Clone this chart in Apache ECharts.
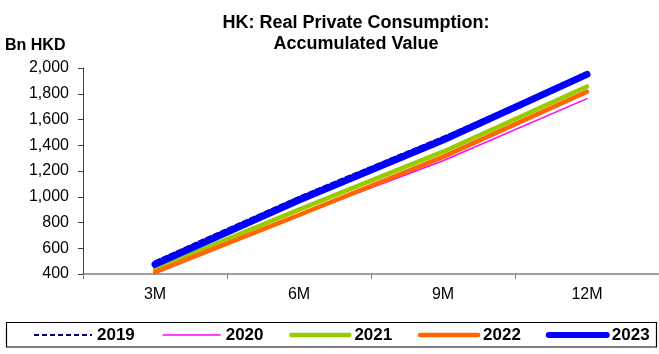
<!DOCTYPE html>
<html><head><meta charset="utf-8">
<script src="https://cdn.jsdelivr.net/npm/echarts@6/dist/echarts.min.js"></script>
<style>html,body{margin:0;padding:0;background:#fff}#c{width:659px;height:354px}</style>
</head><body><div id="c"></div>
<script>
const categories = ['3M', '6M', '9M', '12M'];
const s2019 = [500, 1000, 1465, 1960];
const s2020 = [418, 858, 1280, 1762];
const s2021 = [440, 900, 1350, 1855];
const s2022 = [415, 858, 1310, 1815];
const s2023 = [475, 975, 1440, 1950];
const seriesNames = ['2019', '2020', '2021', '2022', '2023'];
const seriesData = [s2019, s2020, s2021, s2022, s2023];
const seriesColors = ['#000080', '#FF00FF', '#99CC00', '#FF6600', '#0000FF'];
const seriesWidths = [2, 1.5, 4.5, 4.5, 7];
const seriesDash = [[5, 3], 'solid', 'solid', 'solid', 'solid'];

const font = 'Liberation Sans, Arial, sans-serif';
const chart = echarts.init(document.getElementById('c'), null, {renderer: 'canvas'});

const series = seriesNames.map((name, i) => ({
  name, type: 'line', data: seriesData[i], symbol: 'none', animation: false,
  lineStyle: {color: seriesColors[i], width: seriesWidths[i], type: seriesDash[i], cap: 'round'},
  itemStyle: {color: seriesColors[i]}
}));

const graphic = [
  {type: 'text', left: 5, top: 38, style: {text: 'Bn HKD', font: 'bold 16px Liberation Sans, Arial', fill: '#000'}},
  {type: 'rect', shape: {x: 6.5, y: 322.5, width: 650, height: 24.5}, style: {fill: 'none', stroke: '#000', lineWidth: 1.2}}
];
seriesNames.forEach((name, i) => {
  const x0 = 34 + i * 128.7;
  const ly = 335;
  graphic.push({type: 'line', shape: {x1: x0, y1: ly, x2: x0 + 58, y2: ly},
    style: {stroke: seriesColors[i], lineWidth: seriesWidths[i] === 7 ? 6 : seriesWidths[i],
      lineDash: Array.isArray(seriesDash[i]) ? seriesDash[i] : null, lineCap: seriesWidths[i] > 3 ? 'round' : 'butt'}});
  graphic.push({type: 'text', x: x0 + 63, y: ly, style: {text: name, font: 'bold 17px Liberation Sans, Arial',
    fill: '#000', textVerticalAlign: 'middle', verticalAlign: 'middle'}});
});

chart.setOption({
  animation: false,
  title: {
    text: 'HK: Real Private Consumption:\nAccumulated Value',
    left: 351, textAlign: 'center', top: 8,
    textStyle: {fontFamily: font, fontSize: 18, fontWeight: 'bold', color: '#000', lineHeight: 21}
  },
  graphic,
  grid: {left: 83, right: 0, top: 68, bottom: 80, containLabel: false},
  xAxis: {
    type: 'category', data: categories, boundaryGap: true,
    axisLine: {lineStyle: {color: '#808080', width: 1.5}},
    axisTick: {show: true, length: 5, lineStyle: {color: '#808080'}},
    axisLabel: {fontFamily: font, fontSize: 16, color: '#000', margin: 13}
  },
  yAxis: {
    type: 'value', min: 400, max: 2000, interval: 200,
    splitLine: {show: false},
    axisLine: {show: true, lineStyle: {color: '#404040', width: 1}},
    axisTick: {show: true, length: 5, inside: false, lineStyle: {color: '#404040'}},
    axisLabel: {fontFamily: font, fontSize: 16, color: '#000', margin: 14,
      formatter: v => v.toLocaleString('en-US')}
  },
  series
});
</script></body></html>
